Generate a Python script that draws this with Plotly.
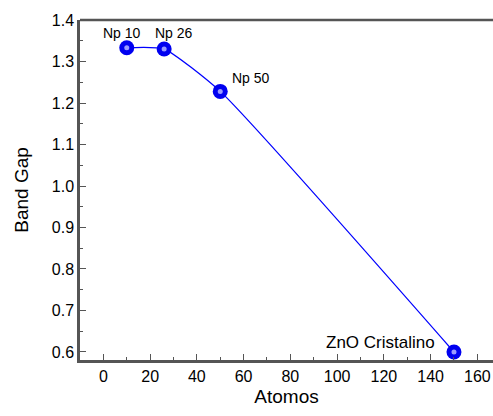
import plotly.graph_objects as go

atomos = [10, 26, 50, 150]
band_gap = [1.333, 1.330, 1.228, 0.600]
labels = ["Np 10", "Np 26", "Np 50", "ZnO Cristalino"]

x_ticks = [0, 20, 40, 60, 80, 100, 120, 140, 160]
y_ticks = [0.6, 0.7, 0.8, 0.9, 1.0, 1.1, 1.2, 1.3, 1.4]

FONT = "Liberation Sans, Arial, sans-serif"
AX = "#555555"

fig = go.Figure()
fig.add_trace(go.Scatter(
    x=atomos, y=band_gap, mode="lines",
    line=dict(color="#0000ff", width=1.3, shape="spline", smoothing=0.5),
    hoverinfo="skip", showlegend=False))
fig.add_trace(go.Scatter(
    x=atomos, y=band_gap, mode="markers",
    marker=dict(size=15, color="#0000f0", line=dict(width=0)),
    showlegend=False))
fig.add_trace(go.Scatter(
    x=atomos, y=band_gap, mode="markers",
    marker=dict(size=5, color="#9a9aff", line=dict(width=0)),
    hoverinfo="skip", showlegend=False))

offsets = [
    dict(xshift=-5, yshift=15, xanchor="center", size=14),
    dict(xshift=10, yshift=16, xanchor="center", size=14),
    dict(xshift=10, yshift=13, xanchor="left", size=14),
    dict(xshift=-17, yshift=9, xanchor="right", size=17),
]
for xv, yv, t, o in zip(atomos, band_gap, labels, offsets):
    sz = o.pop("size")
    fig.add_annotation(x=xv, y=yv, text=t, showarrow=False,
                       font=dict(family=FONT, size=sz, color="black"),
                       yanchor="middle", **o)

fig.add_shape(type="line", xref="paper", yref="paper", x0=0, x1=1, y0=1, y1=1,
              line=dict(color=AX, width=2.5))

fig.update_xaxes(range=[-10, 166.7], tickvals=x_ticks, ticks="inside",
                 ticklen=6, tickwidth=1.3, tickcolor=AX, automargin=False,
                 showline=True, linecolor=AX, linewidth=2.5, showgrid=False, zeroline=False,
                 minor=dict(dtick=10, tick0=0, ticks="inside", ticklen=3, tickcolor=AX, tickwidth=1.3),
                 tickfont=dict(family=FONT, size=16, color="black"),
                 title=dict(text="Atomos", font=dict(family=FONT, size=19, color="black"), standoff=6))
fig.update_yaxes(range=[0.5807, 1.4], tickvals=y_ticks, tickformat=".1f", ticks="inside",
                 ticklen=6, tickwidth=1.3, tickcolor=AX, automargin=False,
                 showline=True, linecolor=AX, linewidth=2.5, showgrid=False, zeroline=False,
                 minor=dict(dtick=0.05, tick0=0.6, ticks="inside", ticklen=3, tickcolor=AX, tickwidth=1.3),
                 tickfont=dict(family=FONT, size=16, color="black"),
                 title=dict(text="Band Gap", font=dict(family=FONT, size=19, color="black"), standoff=19))

fig.update_layout(width=493, height=416, margin=dict(l=80, r=0, t=20, b=56),
                  plot_bgcolor="white", paper_bgcolor="white")
fig.write_html("out.html", config={"displayModeBar": False},
               post_script="document.body.style.margin='0';")
